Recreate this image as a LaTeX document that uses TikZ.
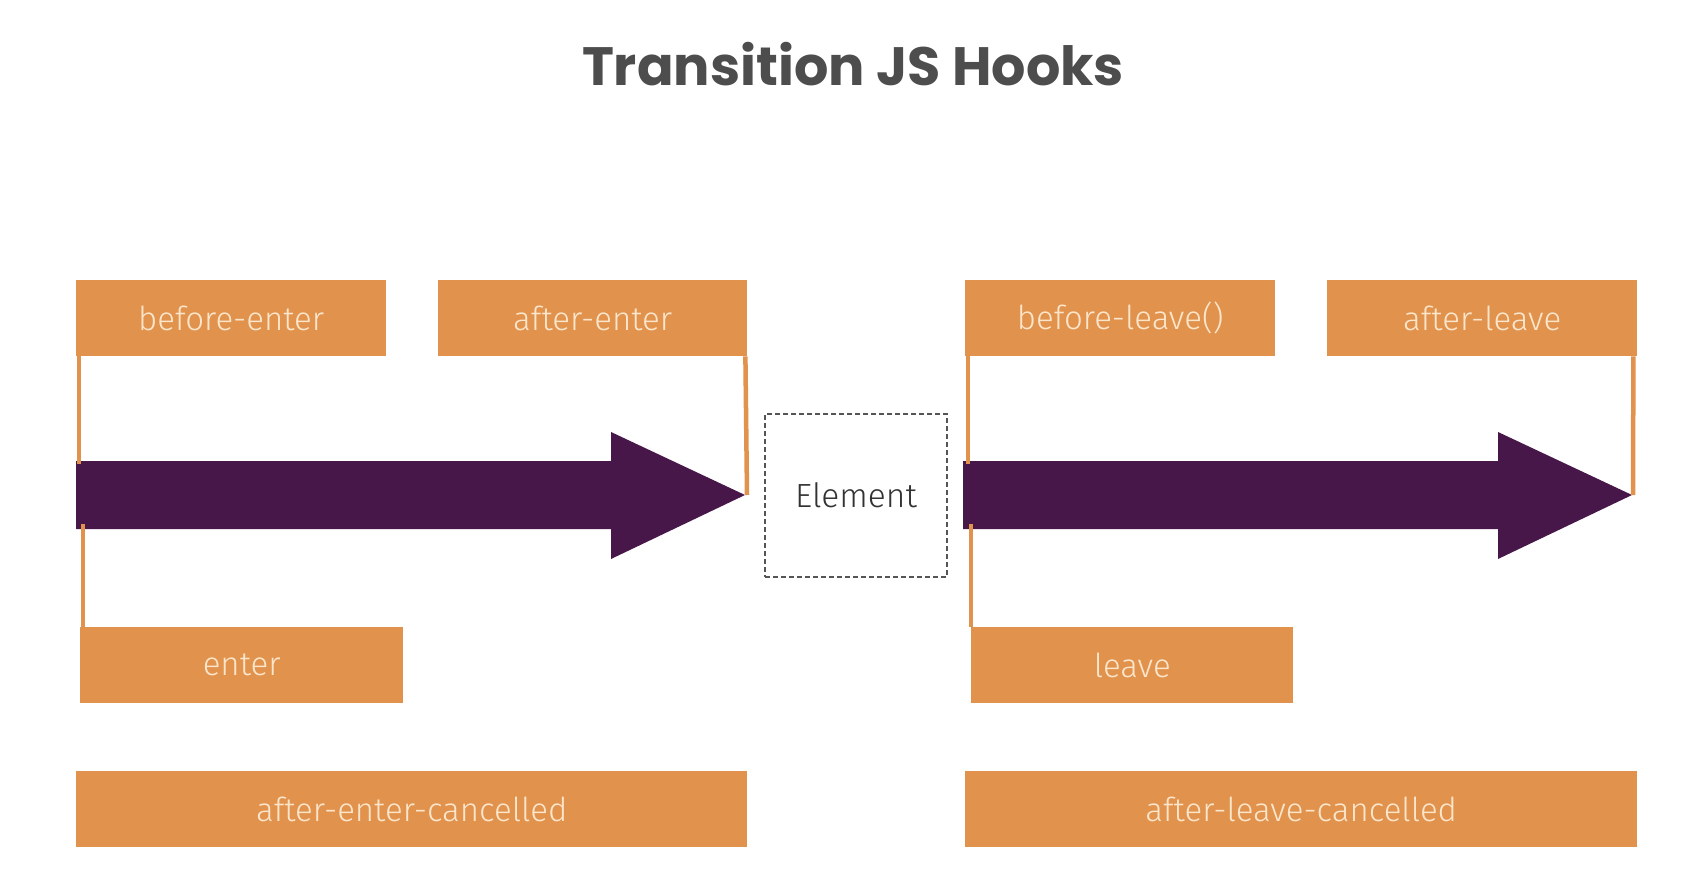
\documentclass[tikz,border=0pt]{standalone}
\usepackage{fontspec}
\newfontfamily\lblfont{Fira Sans}[UprightFont={* Light}]
\newfontfamily\titlefont{Poppins}[UprightFont={* Bold}]
\definecolor{hookorange}{HTML}{E1924D}
\definecolor{hookpurple}{HTML}{48174A}
\definecolor{hooktext}{HTML}{FCE6CB}
\definecolor{titlegray}{HTML}{4D4D4D}
\definecolor{elemgray}{HTML}{555555}
\begin{document}
\begin{tikzpicture}[x=1pt,y=-1pt,
  hook/.style={fill=hookorange, draw=none, inner sep=0pt, anchor=north west,
    minimum height=76pt, text=hooktext, font=\lblfont\fontsize{33}{40}\selectfont},
  conn/.style={draw=hookorange, line width=4.5pt},
  flow/.style={fill=hookpurple}]
\useasboundingbox (0,0) rectangle (1684,874);
\fill[white] (0,0) rectangle (1684,874);

\node[anchor=base, text=titlegray, font=\titlefont\fontsize{54}{60}\selectfont] (title) at (853,86) {Transition JS Hooks};

% arrows
\fill[flow] (76,461) coordinate (la-tl) -- (611,461) -- (611,432) -- (745,495) coordinate (la-tip)
  -- (611,559) -- (611,529) -- (76,529) coordinate (la-bl) -- cycle;
\fill[flow] (963,461) coordinate (ra-tl) -- (1498,461) -- (1498,432) -- (1632,495) coordinate (ra-tip)
  -- (1498,559) -- (1498,529) -- (963,529) coordinate (ra-bl) -- cycle;

% hook boxes
\node[hook, minimum width=310pt] (be) at (76,280) {before-enter};
\node[hook, minimum width=309pt] (ae) at (438,280) {after-enter};
\node[hook, minimum width=310pt] (bl) at (965,280) {before-leave()};
\node[hook, minimum width=310pt] (al) at (1327,280) {after-leave};
\node[hook, minimum width=323pt] (en) at (80,627) {enter};
\node[hook, minimum width=322pt] (lv) at (971,627) {leave};
\node[hook, minimum width=671pt] (aec) at (76,771) {after-enter-cancelled};
\node[hook, minimum width=672pt] (alc) at (965,771) {after-leave-cancelled};

% element
\node[draw=elemgray, dashed, dash pattern=on 5pt off 3pt, line width=1.4pt,
  minimum width=182pt, minimum height=163pt, inner sep=0pt, text=black!80,
  font=\lblfont\fontsize{33.5}{40}\selectfont] (el) at (856,495.5) {Element};

% connectors
\draw[conn] ([xshift=3pt]be.south west) -- ([xshift=3pt,yshift=-3pt]la-tl);
\draw[conn] ([xshift=7pt,yshift=5pt]la-bl) -- ([xshift=3pt]en.north west);
\draw[conn] ([xshift=-2pt]ae.south east) -- ([xshift=2pt]la-tip);
\draw[conn] ([xshift=3pt]bl.south west) -- ([xshift=5pt,yshift=-3pt]ra-tl);
\draw[conn] ([xshift=8pt,yshift=5pt]ra-bl) -- ([xshift=0pt]lv.north west);
\draw[conn] ([xshift=-4pt]al.south east) -- ([xshift=1pt]ra-tip);
\end{tikzpicture}
\end{document}
